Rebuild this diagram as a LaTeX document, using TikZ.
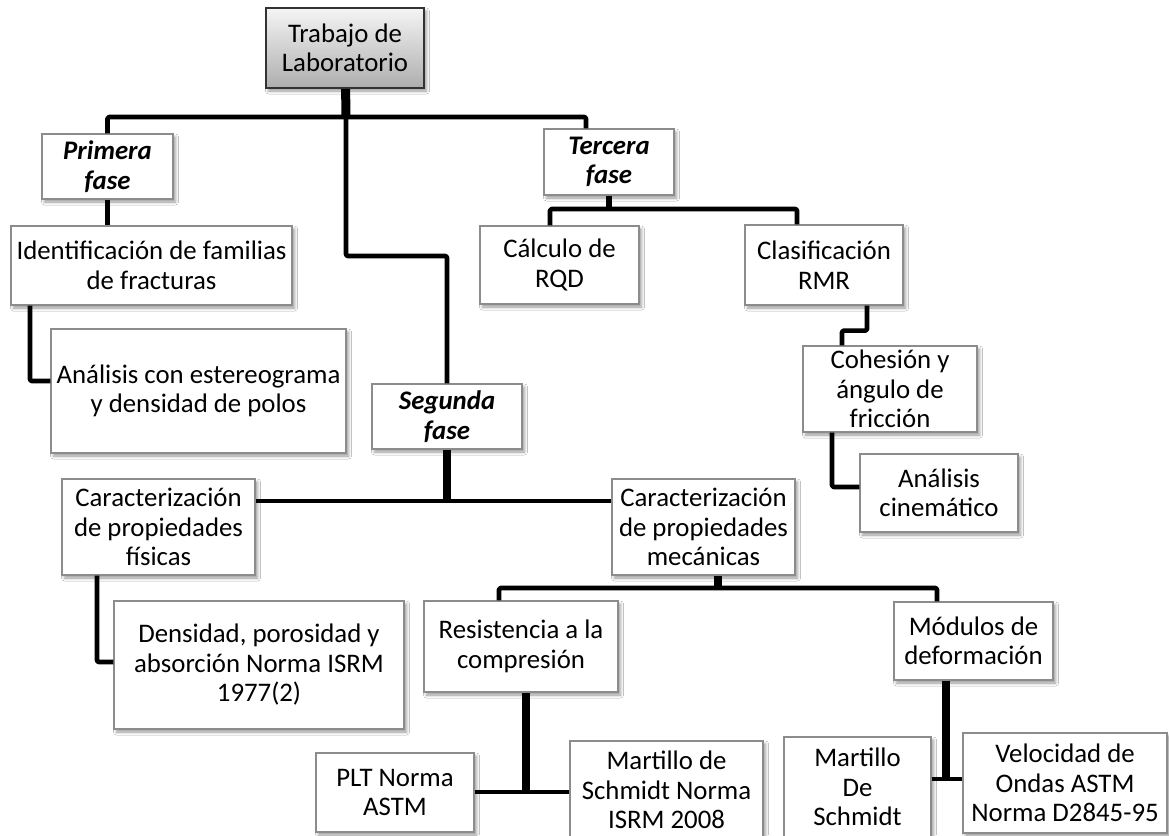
\documentclass[tikz,border=0pt]{standalone}
\usepackage{fontspec}
\setmainfont{Carlito}
\usetikzlibrary{shadows.blur}

\tikzset{
  box/.style={draw=black!45, line width=1.3pt, fill=white, inner sep=0pt,
    align=center, font=\fontsize{26.8}{29.5}\selectfont,
    blur shadow={shadow xshift=2.5pt, shadow yshift=-3pt,
      shadow blur radius=3pt, shadow opacity=40}},
  rootbox/.style={box, draw=black!80, line width=2.2pt,
    top color=black!4, bottom color=black!32},
  phasebox/.style={box, font=\fontsize{26.8}{29.5}\selectfont\bfseries\itshape},
  conn/.style={draw=black, line width=4.6pt, line join=round, rounded corners=1.5pt},
  stub/.style={draw=black, line width=7.5pt},
}

\begin{document}
\begin{tikzpicture}[x=1pt, y=-1pt]
  \useasboundingbox (0,0) rectangle (1169,835);
  \clip (0,0) rectangle (1169,835);
  \fill[white] (0,0) rectangle (1169,835);

  % ---- boxes ----
  \node[rootbox, minimum width=158, minimum height=80] (top) at (345,48) {Trabajo de\\Laboratorio};

  \node[phasebox, minimum width=131, minimum height=65] (prim) at (107.5,166.5) {Primera\\fase};
  \node[box, minimum width=281, minimum height=79] (ident) at (151.5,265.5) {Identificación de familias\\de fracturas};
  \node[box, minimum width=295, minimum height=124] (anal) at (198.5,391) {Análisis con estereograma\\y densidad de polos};

  \node[phasebox, minimum width=150, minimum height=65] (seg) at (447,416.5) {Segunda\\fase};
  \node[box, minimum width=193, minimum height=96] (fis) at (158.5,527) {Caracterización\\de propiedades\\físicas};
  \node[box, minimum width=290, minimum height=128] (dens) at (259,665) {Densidad, porosidad y\\absorción Norma ISRM\\1977(2)};
  \node[box, minimum width=183, minimum height=96] (mec) at (703.5,527) {Caracterización\\de propiedades\\mecánicas};
  \node[box, minimum width=194, minimum height=91] (res) at (521,646.5) {Resistencia a la\\compresión};
  \node[box, minimum width=159, minimum height=78] (mod) at (973.5,641) {Módulos de\\deformación};
  \node[box, minimum width=158, minimum height=79] (plt) at (395,792.5) {PLT Norma\\ASTM};
  \node[box, minimum width=193, minimum height=98] (mart) at (666.5,790) {Martillo de\\Schmidt Norma\\ISRM 2008};
  \node[box, minimum width=147, minimum height=100] (mds) at (857.5,787) {Martillo\\De\\Schmidt};
  \node[box, minimum width=204, minimum height=100] (vel) at (1065,783) {Velocidad de\\Ondas ASTM\\Norma D2845-95};

  \node[phasebox, minimum width=130, minimum height=66] (terc) at (609,162) {Tercera\\fase};
  \node[box, minimum width=159, minimum height=78] (calc) at (559.5,265) {Cálculo de\\RQD};
  \node[box, minimum width=158, minimum height=80] (clas) at (824,265) {Clasificación\\RMR};
  \node[box, minimum width=174, minimum height=86] (cohe) at (890,389) {Cohesión y\\ángulo de\\fricción};
  \node[box, minimum width=158, minimum height=78] (cine) at (939,493) {Análisis\\cinemático};

  % ---- junction points ----
  \coordinate (j0) at (346,117);
  \coordinate (jt) at (609,209);
  \coordinate (js) at (447,501);
  \coordinate (jm) at (718,588);
  \coordinate (jr) at (526,792);
  \coordinate (jmo) at (946,779);

  % ---- connectors ----
  \draw[stub, line width=9pt] (top) -- (j0);
  \draw[conn] (prim.north) |- (j0) -| ([xshift=-23pt]terc.north);
  \draw[conn] (j0) -- ++(0,139) -| (seg.north);
  \draw[conn] (prim.south) -- (prim.south |- ident.north);
  \draw[conn] ([xshift=-121.5pt]ident.south) |- ([yshift=10pt]anal.west);

  \draw[stub] (seg) -- (js);
  \draw[conn] ([yshift=26pt]fis.east) -- ([yshift=26pt]mec.west);
  \draw[conn] ([xshift=-61.5pt]fis.south) |- ([yshift=3pt]dens.west);

  \draw[stub] ([xshift=14.5pt]mec.south) -- (jm);
  \draw[conn] ([xshift=-22pt]res.north) |- (jm) -| ([xshift=-36.5pt]mod.north);
  \draw[stub] ([xshift=5pt]res.south) -- (jr);
  \draw[conn] (plt.east |- jr) -- (mart.west |- jr);
  \draw[stub] ([xshift=-27.5pt]mod.south) -- (jmo);
  \draw[conn] (mds.east |- jmo) -- (vel.west |- jmo);

  \draw[conn, line width=5.5pt] (terc) -- (jt);
  \draw[conn] ([xshift=-9.5pt]calc.north) |- (jt) -| ([xshift=-27pt]clas.north);
  \draw[conn] ([xshift=43pt]clas.south) -- ++(0,25) -| ([xshift=-48pt]cohe.north);
  \draw[conn] ([xshift=-58pt]cohe.south) |- ([yshift=6pt]cine.west);
\end{tikzpicture}
\end{document}
